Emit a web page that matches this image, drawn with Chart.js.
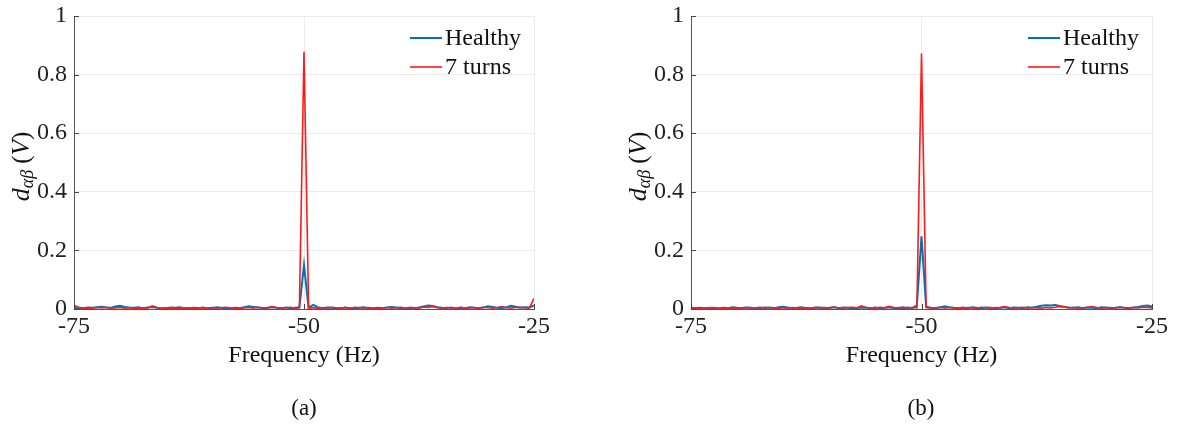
<!DOCTYPE html>
<html>
<head>
<meta charset="utf-8">
<script src="https://cdn.jsdelivr.net/npm/chart.js@4.4.0/dist/chart.umd.min.js"></script>
<style>
  body { margin: 0; background: #fff; }
  #wrap { position: relative; width: 1182px; height: 428px; }
  .panel { position: absolute; top: 0; width: 591px; height: 428px; }
  .cap { position: absolute; top: 395px; font: 23px "Liberation Serif", serif; color: #111; transform: translateX(-50%); }
</style>
</head>
<body>
<div id="wrap">
  <div class="panel" style="left:0"><canvas id="ca" width="591" height="428"></canvas></div>
  <div class="panel" style="left:591px"><canvas id="cb" width="591" height="428"></canvas></div>
  <div class="cap" style="left:304px">(a)</div>
  <div class="cap" style="left:921px">(b)</div>
</div>
<script>
// frequency grid, 0.5 Hz resolution from -75 to -25
const freqs = [];
for (let f = -75; f <= -25; f += 0.5) freqs.push(f);

const xTicks = [-75, -50, -25];
const yTicks = [0, 0.2, 0.4, 0.6, 0.8, 1];
const yTickLabels = ['0', '0.2', '0.4', '0.6', '0.8', '1'];

// (a)
const healthyA = [
  0.004,0.002,0.003,0.005,0.004,0.006,0.008,0.005,0.004,0.009,
  0.011,0.007,0.005,0.004,0.006,0.003,0.005,0.007,0.004,0.002,
  0.003,0.005,0.004,0.006,0.003,0.002,0.004,0.003,0.005,0.002,
  0.003,0.006,0.004,0.003,0.002,0.004,0.003,0.006,0.009,0.007,
  0.005,0.003,0.004,0.006,0.004,0.002,0.005,0.003,0.004,0.006,
  0.150,
  0.004,0.014,0.006,0.003,0.005,0.004,0.002,0.003,0.005,
  0.003,0.002,0.004,0.006,0.003,0.002,0.004,0.003,0.005,0.007,
  0.005,0.003,0.002,0.004,0.003,0.005,0.009,0.012,0.010,0.006,
  0.004,0.003,0.005,0.002,0.004,0.003,0.006,0.004,0.003,0.005,
  0.009,0.007,0.004,0.003,0.006,0.011,0.008,0.004,0.006,0.005,
  0.012
];
const turnsA = [
  0.013,0.006,0.003,0.004,0.003,0.005,0.004,0.006,0.003,0.004,
  0.005,0.003,0.004,0.002,0.003,0.004,0.003,0.011,0.005,0.003,
  0.002,0.003,0.004,0.003,0.002,0.004,0.003,0.002,0.004,0.003,
  0.005,0.003,0.004,0.006,0.004,0.003,0.002,0.004,0.005,0.003,
  0.006,0.004,0.003,0.008,0.005,0.003,0.004,0.006,0.003,0.004,
  0.878,
  0.003,0.004,0.002,0.005,0.003,0.006,0.004,0.003,0.005,
  0.002,0.006,0.004,0.003,0.005,0.003,0.004,0.002,0.005,0.003,
  0.004,0.006,0.003,0.005,0.004,0.003,0.007,0.005,0.009,0.004,
  0.003,0.005,0.004,0.002,0.006,0.003,0.004,0.005,0.003,0.006,
  0.004,0.003,0.005,0.008,0.004,0.003,0.005,0.006,0.004,0.003,
  0.036
];

// (b)
const healthyB = [
  0.005,0.003,0.004,0.002,0.004,0.003,0.002,0.004,0.003,0.006,
  0.004,0.003,0.005,0.004,0.002,0.003,0.005,0.004,0.003,0.006,
  0.008,0.005,0.003,0.004,0.006,0.003,0.002,0.004,0.005,0.003,
  0.004,0.006,0.003,0.005,0.004,0.002,0.003,0.005,0.004,0.003,
  0.005,0.003,0.004,0.006,0.003,0.004,0.002,0.005,0.003,0.012,
  0.248,
  0.008,0.004,0.003,0.005,0.009,0.006,0.004,0.003,0.005,
  0.003,0.006,0.004,0.003,0.005,0.004,0.002,0.004,0.006,0.003,
  0.005,0.004,0.003,0.006,0.004,0.008,0.011,0.013,0.012,0.014,
  0.010,0.007,0.005,0.004,0.006,0.003,0.005,0.004,0.003,0.006,
  0.005,0.003,0.004,0.006,0.004,0.003,0.005,0.007,0.010,0.012,
  0.008
];
const turnsB = [
  0.004,0.003,0.002,0.004,0.003,0.005,0.003,0.002,0.004,0.003,
  0.002,0.004,0.005,0.003,0.004,0.006,0.003,0.005,0.004,0.002,
  0.004,0.003,0.005,0.003,0.002,0.004,0.003,0.006,0.004,0.005,
  0.003,0.007,0.004,0.003,0.005,0.006,0.004,0.011,0.005,0.004,
  0.003,0.006,0.004,0.009,0.005,0.004,0.007,0.003,0.005,0.004,
  0.872,
  0.005,0.003,0.004,0.006,0.003,0.005,0.004,0.002,0.003,0.005,
  0.004,0.003,0.006,0.004,0.003,0.005,0.004,0.008,0.005,0.003,
  0.004,0.006,0.003,0.005,0.004,0.003,0.005,0.004,0.006,0.009,
  0.007,0.004,0.005,0.003,0.004,0.006,0.008,0.005,0.003,0.004,
  0.005,0.003,0.006,0.004,0.003,0.005,0.004,0.006,0.005,0.004,
  0.007
];

const FONT = '"Liberation Serif", serif';
const FS = 24;
const BLUE = '#0072BD';
const RED = '#FF1A1A';

// inward ticks, legend and the y title with subscript
const decor = {
  id: 'decor',
  afterDraw(chart) {
    const { ctx, chartArea: a, scales } = chart;
    ctx.save();
    ctx.strokeStyle = '#444';
    ctx.lineWidth = 1;
    xTicks.forEach(v => {
      const x = Math.round(scales.x.getPixelForValue(v)) + 0.5;
      ctx.beginPath(); ctx.moveTo(x, a.bottom); ctx.lineTo(x, a.bottom - 5); ctx.stroke();
    });
    yTicks.forEach(v => {
      const y = Math.round(scales.y.getPixelForValue(v)) + 0.5;
      ctx.beginPath(); ctx.moveTo(a.left, y); ctx.lineTo(a.left + 5, y); ctx.stroke();
    });

    // legend
    ctx.textBaseline = 'middle';
    ctx.textAlign = 'left';
    ctx.font = FS + 'px ' + FONT;
    chart.data.datasets.forEach((ds, i) => {
      const y = a.top + 22 + i * 29;
      ctx.strokeStyle = ds.borderColor;
      ctx.lineWidth = ds.borderWidth;
      ctx.beginPath(); ctx.moveTo(a.right - 124, y); ctx.lineTo(a.right - 92, y); ctx.stroke();
      ctx.fillStyle = '#111';
      ctx.fillText(ds.label, a.right - 89, y + 1);
    });

    // y title: d_{αβ} (V)
    ctx.translate(a.left - 52, (a.top + a.bottom) / 2 + 4);
    ctx.rotate(-Math.PI / 2);
    const parts = [
      { t: 'd', f: 'italic 26px ' + FONT, dy: 0 },
      { t: 'αβ', f: 'italic 18px ' + FONT, dy: 6 },
      { t: ' (', f: '25px ' + FONT, dy: 0 },
      { t: 'V', f: 'italic 25px ' + FONT, dy: 0 },
      { t: ')', f: '25px ' + FONT, dy: 0 }
    ];
    let w = 0;
    parts.forEach(p => { ctx.font = p.f; p.w = ctx.measureText(p.t).width; w += p.w; });
    let x = -w / 2;
    ctx.fillStyle = '#111';
    parts.forEach(p => { ctx.font = p.f; ctx.fillText(p.t, x, p.dy); x += p.w; });
    ctx.restore();
  }
};

function makeChart(id, healthy, turns, yWidth, padRight) {
  return new Chart(document.getElementById(id), {
    type: 'line',
    data: {
      datasets: [
        { label: 'Healthy', data: freqs.map((f, i) => ({ x: f, y: healthy[i] })),
          borderColor: BLUE, borderWidth: 2, pointRadius: 0, order: 1 },
        { label: '7 turns', data: freqs.map((f, i) => ({ x: f, y: turns[i] })),
          borderColor: RED, borderWidth: 1.6, pointRadius: 0, order: 0 }
      ]
    },
    options: {
      responsive: false,
      animation: false,
      devicePixelRatio: 1,
      layout: { padding: { left: 0, top: 16, right: padRight, bottom: 58 } },
      plugins: { legend: { display: false }, tooltip: { enabled: false } },
      scales: {
        x: {
          type: 'linear', min: -75, max: -25,
          afterBuildTicks: s => { s.ticks = xTicks.map(v => ({ value: v })); },
          afterFit: s => { s.height = 61; s.paddingLeft = 0; s.paddingRight = 0; },
          ticks: { color: '#222', font: { family: FONT, size: FS }, padding: 3, maxRotation: 0 },
          grid: { color: '#ebebeb', drawTicks: false },
          border: { color: '#555' },
          title: { display: true, text: 'Frequency (Hz)', color: '#111',
                   font: { family: FONT, size: FS }, padding: 0 }
        },
        y: {
          min: 0, max: 1,
          afterBuildTicks: s => { s.ticks = yTicks.map(v => ({ value: v })); },
          afterFit: s => { s.width = yWidth; s.paddingTop = 0; s.paddingBottom = 0; },
          ticks: { color: '#222', font: { family: FONT, size: FS }, padding: 7,
                   callback: (v, i) => yTickLabels[i] },
          grid: { color: '#ebebeb', drawTicks: false },
          border: { color: '#555' }
        }
      }
    },
    plugins: [decor]
  });
}

makeChart('ca', healthyA, turnsA, 74, 57);
makeChart('cb', healthyB, turnsB, 100, 30);
</script>
</body>
</html>
